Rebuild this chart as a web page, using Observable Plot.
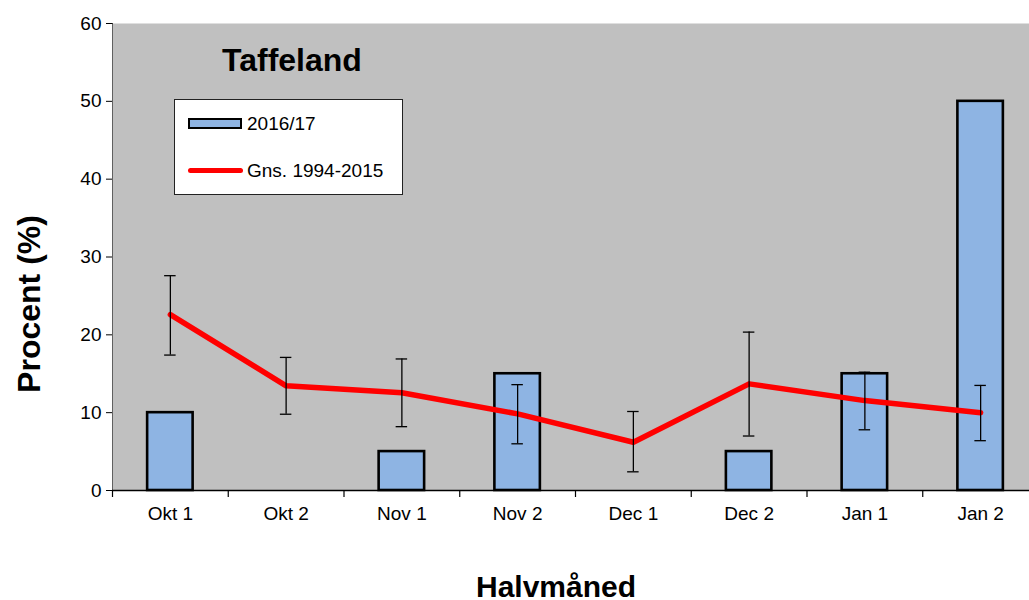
<!DOCTYPE html>
<html>
<head>
<meta charset="utf-8">
<script src="https://cdn.jsdelivr.net/npm/d3@7"></script>
<script src="https://cdn.jsdelivr.net/npm/@observablehq/plot@0.6"></script>
<style>
  html, body { margin: 0; padding: 0; background: #fff; overflow: hidden; }
  #wrap { position: relative; width: 1029px; height: 600px; overflow: hidden; font-family: "Liberation Sans", Arial, sans-serif; color: #000; }
  .abs { position: absolute; white-space: nowrap; }
</style>
</head>
<body>
<div id="wrap"></div>
<script>
const categories = ["Okt 1", "Okt 2", "Nov 1", "Nov 2", "Dec 1", "Dec 2", "Jan 1", "Jan 2"];
const values2016 = [10, 0, 5, 15, 0, 5, 15, 50];
const avg19942015 = [22.6, 13.45, 12.55, 9.85, 6.2, 13.7, 11.55, 10.0];
const errLow = [17.4, 9.8, 8.2, 6.0, 2.4, 7.0, 7.8, 6.4];
const errHigh = [27.6, 17.1, 16.9, 13.6, 10.15, 20.35, 15.2, 13.5];
const yTicks = [0, 10, 20, 30, 40, 50, 60];
const seriesNames = ["2016/17", "Gns. 1994-2015"];

const data = categories.map((c, i) => ({
  cat: c, v: values2016[i], avg: avg19942015[i], lo: errLow[i], hi: errHigh[i]
}));

const W = 1038, step = (W - 112) / categories.length;

const chart = Plot.plot({
  width: W,
  height: 600,
  marginLeft: 112,
  marginRight: 0,
  marginTop: 23,
  marginBottom: 110,
  style: { fontFamily: "'Liberation Sans', Arial, sans-serif", fontSize: "19px", color: "#000", background: "transparent", overflow: "visible" },
  x: { domain: categories, paddingInner: 0.607, paddingOuter: 0.3035, round: false, label: null, tickSize: 0, tickPadding: 16 },
  y: { domain: [0, 60], ticks: yTicks, tickSize: 6, tickPadding: 5, label: null, line: true },
  marks: [
    Plot.frame({ fill: "#c0c0c0", stroke: null }),
    Plot.barY(data.filter(d => d.v > 0), { x: "cat", y: "v", fill: "#8eb4e3", stroke: "#000", strokeWidth: 2.6 }),
    Plot.lineY(data, { x: "cat", y: "avg", stroke: "#ff0000", strokeWidth: 5.5, strokeLinejoin: "round", strokeLinecap: "round" }),
    Plot.ruleX(data, { x: "cat", y1: "lo", y2: "hi", stroke: "#000", strokeWidth: 1.3 }),
    Plot.tickY(data, { x: "cat", y: "lo", stroke: "#000", strokeWidth: 1.3, insetLeft: 17, insetRight: 17 }),
    Plot.tickY(data, { x: "cat", y: "hi", stroke: "#000", strokeWidth: 1.3, insetLeft: 17, insetRight: 17 }),
    Plot.ruleY([0], { stroke: "#000", strokeWidth: 1.3 }),
    Plot.ruleX(categories, { x: d => d, y1: 0, y2: 0, insetBottom: -7, dx: -step / 2, stroke: "#000", strokeWidth: 1.2 })
  ]
});
chart.style.position = "absolute";
chart.style.left = "0px";
chart.style.top = "0px";
chart.style.maxWidth = "none";
chart.style.width = W + "px";
chart.style.height = "600px";
const wrap = document.getElementById("wrap");
wrap.appendChild(chart);

function addDiv(html, css) {
  const d = document.createElement("div");
  d.className = "abs";
  d.innerHTML = html;
  Object.assign(d.style, css);
  wrap.appendChild(d);
  return d;
}

// Title inside plot
addDiv("Taffeland", { left: "222px", top: "44px", fontSize: "32px", fontWeight: "bold", lineHeight: "32px" });

// Axis titles
addDiv("Procent (%)", { left: "29px", top: "304px", fontSize: "32px", fontWeight: "bold", lineHeight: "32px", transform: "translate(-50%, -50%) rotate(-90deg)" });
addDiv("Halvmåned", { left: "556px", top: "572px", fontSize: "30px", fontWeight: "bold", lineHeight: "30px", transform: "translateX(-50%)" });

// Legend
addDiv("", { left: "174px", top: "99px", width: "227px", height: "94px", background: "#fff", border: "1px solid #222" });
addDiv("", { left: "188px", top: "118px", width: "50px", height: "7px", background: "#8eb4e3", border: "2px solid #000" });
addDiv(seriesNames[0], { left: "247px", top: "114px", fontSize: "19px", lineHeight: "19px" });
addDiv("", { left: "188px", top: "168px", width: "55px", height: "5px", background: "#ff0000", borderRadius: "3px" });
addDiv(seriesNames[1], { left: "247px", top: "161px", fontSize: "19px", lineHeight: "19px" });
</script>
</body>
</html>
